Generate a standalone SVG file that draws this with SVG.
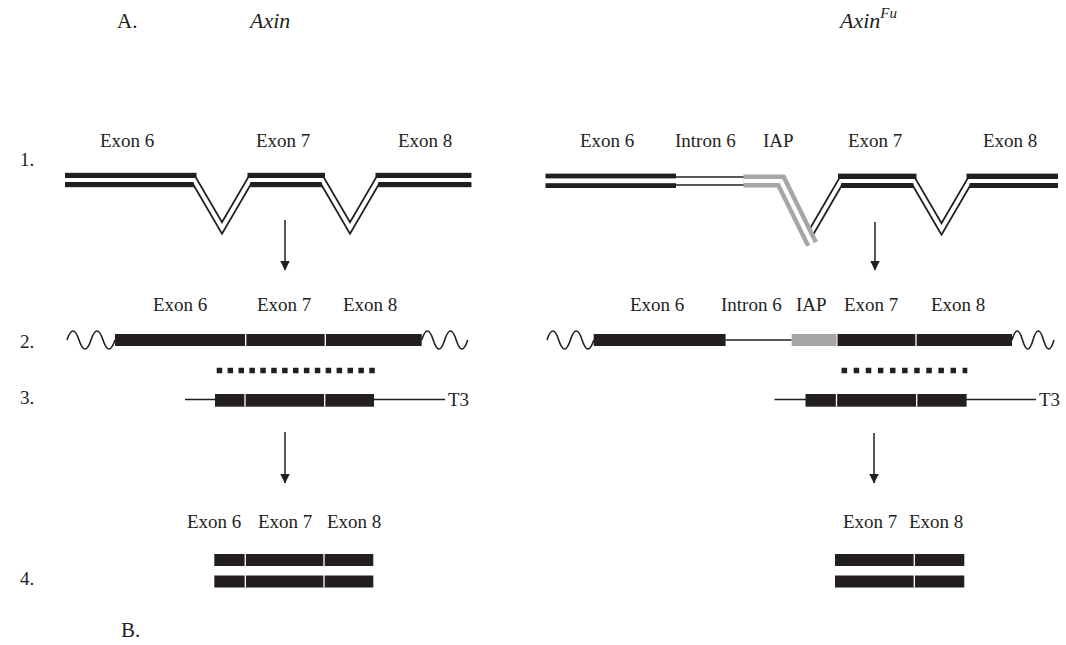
<svg xmlns="http://www.w3.org/2000/svg" width="1066" height="645" viewBox="0 0 1066 645">
  <style>
    .lbl { font-family: "Liberation Serif", "Times New Roman", serif; font-size: 19px; fill: #231f20; }
    .head { font-family: "Liberation Serif", "Times New Roman", serif; font-size: 21px; fill: #231f20; }
    .gene { font-family: "Liberation Serif", "Times New Roman", serif; font-size: 22px; font-style: italic; fill: #231f20; }
    .bar { fill: #231f20; }
    .iap { fill: #a6a6a6; }
    .vout { fill: none; stroke: #231f20; stroke-width: 7.5; stroke-linejoin: miter; stroke-miterlimit: 10; }
    .vin { fill: none; stroke: #ffffff; stroke-width: 4; stroke-linejoin: miter; stroke-miterlimit: 10; }
    .gout { fill: none; stroke: #a6a6a6; stroke-width: 13; stroke-linejoin: miter; }
    .gin { fill: none; stroke: #ffffff; stroke-width: 4; stroke-linejoin: miter; }
    .thin { fill: none; stroke: #231f20; stroke-width: 1.3; }
    .wave { fill: none; stroke: #231f20; stroke-width: 1.6; }
    .cut { stroke: #ffffff; stroke-width: 1.3; }
    .dots { fill: none; stroke: #231f20; stroke-width: 5.5; }
    .arrow { fill: none; stroke: #231f20; stroke-width: 1.5; marker-end: url(#head); }
  </style>
  <defs>
    <marker id="head" markerUnits="userSpaceOnUse" markerWidth="10" markerHeight="11" refX="9.5" refY="5" orient="auto">
      <path d="M0,0 L10,5 L0,10 Z" fill="#231f20"/>
    </marker>
  </defs>
  <rect width="1066" height="645" fill="#ffffff"/>

  <!-- panel headings -->
  <g id="headings">
    <text class="head" x="117" y="28">A.</text>
    <text class="gene" x="250" y="28">Axin</text>
    <text class="gene" x="840" y="28">Axin<tspan font-size="15" dy="-10">Fu</tspan></text>
    <text class="head" x="121" y="637">B.</text>
  </g>

  <!-- step numbers -->
  <g id="steps">
    <text class="lbl" x="20" y="166">1.</text>
    <text class="lbl" x="20" y="348">2.</text>
    <text class="lbl" x="20" y="404">3.</text>
    <text class="lbl" x="20" y="585">4.</text>
  </g>

  <!-- Axin genomic locus with splicing -->
  <g id="axin-gene">
    <text class="lbl" x="100" y="147">Exon 6</text>
    <text class="lbl" x="256" y="147">Exon 7</text>
    <text class="lbl" x="398" y="147">Exon 8</text>
    <polyline class="vout" points="65,180 194,180 222,228 250,180 322,180 350,228 378,180 471,180"/>
    <polyline class="vin" points="65,180 194,180 222,228 250,180 322,180 350,228 378,180 471,180"/>
    <rect class="bar" x="65" y="172.8" width="131.5" height="4.8"/>
    <rect class="bar" x="65" y="182.4" width="129" height="4.8"/>
    <rect class="bar" x="247.5" y="172.8" width="77.5" height="4.8"/>
    <rect class="bar" x="250" y="182.4" width="72" height="4.8"/>
    <rect class="bar" x="375.5" y="172.8" width="96" height="4.8"/>
    <rect class="bar" x="378" y="182.4" width="93.5" height="4.8"/>
  </g>

  <!-- AxinFu genomic locus with IAP insertion -->
  <g id="axinfu-gene">
    <text class="lbl" x="580" y="147">Exon 6</text>
    <text class="lbl" x="675" y="147">Intron 6</text>
    <text class="lbl" x="763" y="147">IAP</text>
    <text class="lbl" x="848" y="147">Exon 7</text>
    <text class="lbl" x="983" y="147">Exon 8</text>
    <line class="thin" x1="676" y1="177" x2="745" y2="177"/>
    <line class="thin" x1="676" y1="185" x2="745" y2="185"/>
    <polyline class="vout" points="809,236 841,181 913.5,181 941.5,229 969.5,181 1058,181"/>
    <polyline class="vin" points="809,236 841,181 913.5,181 941.5,229 969.5,181 1058,181"/>
    <polyline class="gout" points="743.5,181 781,181 812,244"/>
    <polyline class="gin" points="743.5,181 781,181 812,244"/>
    <rect class="bar" x="545.5" y="173.6" width="130.5" height="4.8"/>
    <rect class="bar" x="545.5" y="183.2" width="130.5" height="4.8"/>
    <rect class="bar" x="838" y="173.6" width="78.5" height="4.8"/>
    <rect class="bar" x="841" y="183.2" width="72.5" height="4.8"/>
    <rect class="bar" x="966.5" y="173.6" width="91.5" height="4.8"/>
    <rect class="bar" x="969.5" y="183.2" width="88.5" height="4.8"/>
  </g>

  <!-- Axin transcript, probe and protected fragment -->
  <g id="axin-transcript">
    <text class="lbl" x="153" y="311">Exon 6</text>
    <text class="lbl" x="257" y="311">Exon 7</text>
    <text class="lbl" x="343" y="311">Exon 8</text>
    <path class="wave" d="M67,340 q6,-18 12,0 t12,0 t12,0 t12,0"/>
    <rect class="bar" x="115" y="334" width="306.7" height="12"/>
    <line class="cut" x1="245.7" y1="334" x2="245.7" y2="346"/>
    <line class="cut" x1="325.3" y1="334" x2="325.3" y2="346"/>
    <path class="wave" d="M421.7,340 q5.75,-18 11.5,0 t11.5,0 t11.5,0 t11.5,0"/>
  </g>
  <g id="axin-probe">
    <line class="dots" x1="216.7" y1="370.5" x2="375" y2="370.5" stroke-dasharray="5.5 5.4"/>
    <line class="thin" x1="185" y1="399.5" x2="445" y2="399.5"/>
    <rect class="bar" x="215" y="394" width="159" height="12.7"/>
    <line class="cut" x1="245" y1="394" x2="245" y2="406.7"/>
    <line class="cut" x1="324.7" y1="394" x2="324.7" y2="406.7"/>
    <text class="lbl" x="448" y="406">T3</text>
  </g>

  <!-- AxinFu transcript, probe and protected fragment -->
  <g id="axinfu-transcript">
    <text class="lbl" x="630" y="311">Exon 6</text>
    <text class="lbl" x="721" y="311">Intron 6</text>
    <text class="lbl" x="796" y="311">IAP</text>
    <text class="lbl" x="844" y="311">Exon 7</text>
    <text class="lbl" x="931" y="311">Exon 8</text>
    <path class="wave" d="M547,340 q5.85,-18 11.7,0 t11.7,0 t11.7,0 t11.7,0"/>
    <rect class="bar" x="593.7" y="334" width="131.9" height="12"/>
    <line class="thin" x1="725.6" y1="340" x2="791.7" y2="340"/>
    <rect class="iap" x="791.7" y="334" width="44.8" height="12"/>
    <rect class="bar" x="837.5" y="334" width="174.5" height="12"/>
    <line class="cut" x1="916" y1="334" x2="916" y2="346"/>
    <path class="wave" d="M1012,340 q5.25,-18 10.5,0 t10.5,0 t10.5,0 t10.5,0"/>
  </g>
  <g id="axinfu-probe">
    <line class="dots" x1="841.6" y1="370.5" x2="967.3" y2="370.5" stroke-dasharray="5.5 6.6"/>
    <line class="thin" x1="774.5" y1="399.5" x2="1036" y2="399.5"/>
    <rect class="bar" x="805.5" y="394" width="161.1" height="12.7"/>
    <line class="cut" x1="836.5" y1="394" x2="836.5" y2="406.7"/>
    <line class="cut" x1="916.7" y1="394" x2="916.7" y2="406.7"/>
    <text class="lbl" x="1039" y="406">T3</text>
  </g>

  <!-- protected fragments -->
  <g id="axin-products">
    <text class="lbl" x="187" y="528">Exon 6</text>
    <text class="lbl" x="258" y="528">Exon 7</text>
    <text class="lbl" x="327" y="528">Exon 8</text>
    <rect class="bar" x="214.3" y="554" width="159" height="12"/>
    <rect class="bar" x="214.3" y="575.5" width="159" height="12"/>
    <line class="cut" x1="245.3" y1="554" x2="245.3" y2="587.5"/>
    <line class="cut" x1="324" y1="554" x2="324" y2="587.5"/>
  </g>
  <g id="axinfu-products">
    <text class="lbl" x="843" y="528">Exon 7</text>
    <text class="lbl" x="909" y="528">Exon 8</text>
    <rect class="bar" x="835" y="554" width="129.3" height="12"/>
    <rect class="bar" x="835" y="575.5" width="129.3" height="12"/>
    <line class="cut" x1="914.3" y1="554" x2="914.3" y2="587.5"/>
  </g>

  <!-- process arrows -->
  <g id="connectors">
    <line class="arrow" x1="285" y1="220" x2="285" y2="270"/>
    <line class="arrow" x1="875" y1="222" x2="875" y2="270"/>
    <line class="arrow" x1="285" y1="432" x2="285" y2="483"/>
    <line class="arrow" x1="874" y1="433" x2="874" y2="483"/>
  </g>
</svg>
